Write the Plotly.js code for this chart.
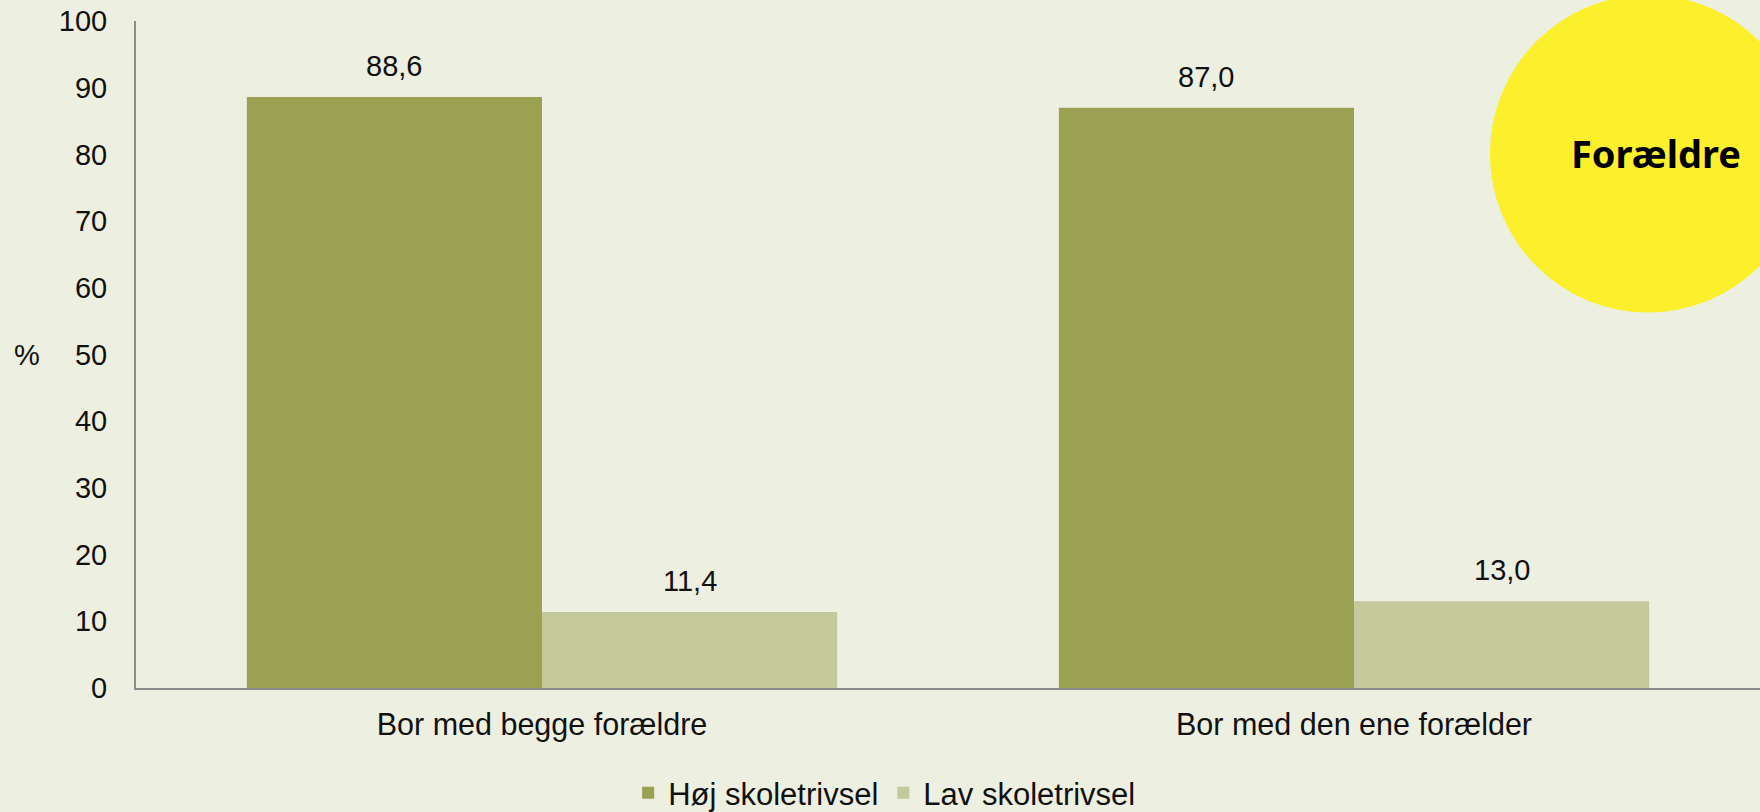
<!DOCTYPE html>
<html>
<head>
<meta charset="utf-8">
<script src="https://cdn.plot.ly/plotly-3.0.1.min.js"></script>
<style>
  html, body { margin: 0; padding: 0; background: #EDEFE0; }
  #chart { width: 1760px; height: 812px; }
</style>
</head>
<body>
<div id="chart"></div>
<script>
// categories and values
var categories = ['Bor med begge forældre', 'Bor med den ene forælder'];
var seriesNames = ['Høj skoletrivsel', 'Lav skoletrivsel'];
var hojValues = [88.6, 87.0];
var lavValues = [11.4, 13.0];
var yTicks = [0, 10, 20, 30, 40, 50, 60, 70, 80, 90, 100];

var darkGreen = '#9BA152';
var lightGreen = '#C4C99C';
var bgColor = '#EDEFE0';
var fontFamily = 'Liberation Sans, Arial, sans-serif';
var textFont = { family: fontFamily, size: 29, color: '#111111' };
var bargap = 0.273;

// danish decimal comma
function fmt(v) {
    return v.toFixed(1).replace('.', ',');
}

var trace1 = {
    type: 'bar',
    name: seriesNames[0],
    x: categories,
    y: hojValues,
    marker: { color: darkGreen },
    hoverinfo: 'x+y'
};

var trace2 = {
    type: 'bar',
    name: seriesNames[1],
    x: categories,
    y: lavValues,
    marker: { color: lightGreen },
    hoverinfo: 'x+y'
};

// value labels above each bar
var annotations = [];
var half = (1 - bargap) / 4;
[hojValues, lavValues].forEach(function (vals, j) {
    vals.forEach(function (v, i) {
        annotations.push({
            x: i + (j === 0 ? -half : half),
            y: v,
            xref: 'x',
            yref: 'y',
            text: fmt(v),
            showarrow: false,
            yanchor: 'bottom',
            yshift: 13,
            font: textFont
        });
    });
});

// "%" axis label, horizontal
annotations.push({
    x: -0.067,
    y: 0.5,
    xref: 'paper',
    yref: 'paper',
    text: '%',
    showarrow: false,
    xanchor: 'center',
    yanchor: 'middle',
    font: textFont
});

// label in the yellow circle
annotations.push({
    x: 0.936,
    y: 0.802,
    xref: 'paper',
    yref: 'paper',
    text: '<b>Forældre</b>',
    showarrow: false,
    xanchor: 'center',
    yanchor: 'middle',
    font: { family: 'Noto Sans, Open Sans, sans-serif', size: 38, color: '#000000' }
});

var layout = {
    width: 1760,
    height: 812,
    margin: { l: 136, r: 0, t: 21, b: 124, autoexpand: false },
    paper_bgcolor: bgColor,
    plot_bgcolor: bgColor,
    font: textFont,
    barmode: 'group',
    bargap: bargap,
    bargroupgap: 0,
    showlegend: true,
    legend: {
        orientation: 'h',
        x: 0.461,
        xanchor: 'center',
        y: -0.1575,
        yanchor: 'middle',
        font: { family: fontFamily, size: 31, color: '#111111' },
        bgcolor: 'rgba(0,0,0,0)'
    },
    xaxis: {
        type: 'category',
        range: [-0.5, 1.5],
        showline: true,
        linecolor: '#8C8C8C',
        linewidth: 2,
        ticks: '',
        showgrid: false,
        zeroline: false,
        automargin: false,
        ticklabelstandoff: 8,
        tickfont: { family: fontFamily, size: 30.5, color: '#111111' },
        fixedrange: true
    },
    yaxis: {
        range: [0, 100],
        tickvals: yTicks,
        ticktext: yTicks.map(String),
        showline: true,
        linecolor: '#8C8C8C',
        linewidth: 2,
        ticks: '',
        showgrid: false,
        zeroline: false,
        automargin: false,
        ticklabelstandoff: 21,
        tickfont: textFont,
        fixedrange: true
    },
    shapes: [{
        type: 'circle',
        xref: 'paper',
        yref: 'paper',
        x0: 0.8337,
        x1: 1.0283,
        y0: 0.563,
        y1: 1.039,
        fillcolor: '#FCEF2B',
        line: { width: 0 },
        layer: 'above'
    }],
    annotations: annotations
};

Plotly.newPlot('chart', [trace1, trace2], layout, { displayModeBar: false, staticPlot: true });
</script>
</body>
</html>
